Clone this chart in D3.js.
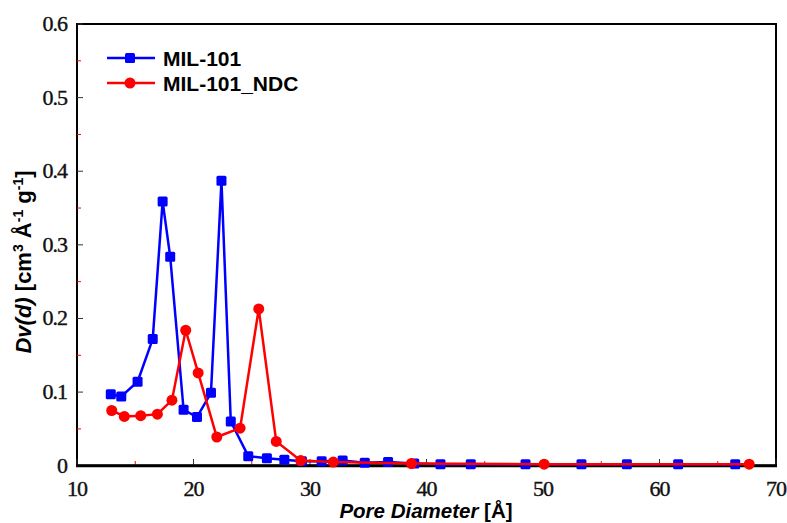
<!DOCTYPE html>
<html><head><meta charset="utf-8">
<script src="https://cdn.jsdelivr.net/npm/d3@7"></script>
<style>body{margin:0;background:#fff;}</style>
</head><body>
<script>
const milX = [12.9,13.8,15.2,16.5,17.35,18.0,19.15,20.3,21.5,22.4,23.2,24.7,26.3,27.8,29.3,31.0,32.8,34.7,36.7,38.95,41.2,43.8,48.5,53.3,57.2,61.6,66.5];
const milY = [0.097,0.094,0.114,0.172,0.359,0.284,0.076,0.066,0.099,0.387,0.060,0.013,0.010,0.008,0.006,0.006,0.007,0.004,0.005,0.003,0.002,0.002,0.002,0.002,0.002,0.002,0.002];
const ndcX = [12.98,14.06,15.47,16.9,18.15,19.33,20.4,22.0,24.0,25.6,27.1,29.2,32.0,38.7,50.1,67.7];
const ndcY = [0.075,0.067,0.068,0.070,0.089,0.184,0.126,0.039,0.051,0.213,0.033,0.007,0.005,0.003,0.002,0.002];
const xTicks = [10,20,30,40,50,60,70];
const xMinor = [15,25,35,45,55,65];
const yTicks = [0,0.1,0.2,0.3,0.4,0.5,0.6];
const yMinor = [0.05,0.15,0.25,0.35,0.45,0.55];
const seriesNames = ["MIL-101","MIL-101_NDC"];
const colors = ["#0000ff","#ff0000"];

const W=787,H=523;
const svg=d3.select("body").append("svg").attr("width",W).attr("height",H);
const x=d3.scaleLinear().domain([10,70]).range([77,776]);
const y=d3.scaleLinear().domain([0,0.6]).range([465.7,24]);

// frame
svg.append("rect").attr("x",77).attr("y",24).attr("width",699).attr("height",441.7)
  .attr("fill","none").attr("stroke","#000").attr("stroke-width",2);

// ticks inward
const g=svg.append("g");
g.selectAll(".yt").data(yTicks).join("line").attr("x1",77).attr("x2",83).attr("y1",d=>y(d)).attr("y2",d=>y(d)).attr("stroke","#333").attr("stroke-width",1);
g.selectAll(".ym").data(yMinor).join("line").attr("x1",77).attr("x2",81).attr("y1",d=>y(d)).attr("y2",d=>y(d)).attr("stroke","#ff0000").attr("stroke-width",1);
g.selectAll(".xt").data(xTicks).join("line").attr("x1",d=>x(d)).attr("x2",d=>x(d)).attr("y1",465.7).attr("y2",459).attr("stroke","#333").attr("stroke-width",1);
g.selectAll(".xm").data(xMinor).join("line").attr("x1",d=>x(d)).attr("x2",d=>x(d)).attr("y1",465.7).attr("y2",461).attr("stroke","#ff0000").attr("stroke-width",1);
svg.append("line").attr("x1",76).attr("x2",777).attr("y1",465.7).attr("y2",465.7).attr("stroke","#000").attr("stroke-width",3);

// tick labels
const serif="'Liberation Serif', 'Times New Roman', 'DejaVu Serif', serif";
svg.selectAll(".yl").data(yTicks).join("text").attr("x",67).attr("y",d=>y(d)+7)
  .attr("text-anchor","end").style("font-family",serif).style("font-size","22px").attr("letter-spacing",-1).attr("fill","#111")
  .attr("stroke","#111").attr("stroke-width",0.4)
  .text(d=>d===0?"0":d3.format(".1f")(d));
svg.selectAll(".xl").data(xTicks).join("text").attr("x",d=>x(d)).attr("y",496)
  .attr("text-anchor","middle").style("font-family",serif).style("font-size","22px").attr("letter-spacing",-1).attr("fill","#111")
  .attr("stroke","#111").attr("stroke-width",0.4)
  .text(d=>d);

// series
const line=d3.line().x(d=>x(d[0])).y(d=>y(d[1]));
const blue=milX.map((v,i)=>[v,milY[i]]);
const red=ndcX.map((v,i)=>[v,ndcY[i]]);
svg.append("path").datum(blue).attr("d",line).attr("fill","none").attr("stroke",colors[0]).attr("stroke-width",2.5);
svg.selectAll(".bm").data(blue).join("rect").attr("x",d=>x(d[0])-5).attr("y",d=>y(d[1])-5).attr("width",10).attr("height",10).attr("rx",1.5).attr("fill",colors[0]);
svg.append("path").datum(red).attr("d",line).attr("fill","none").attr("stroke",colors[1]).attr("stroke-width",2.5);
svg.selectAll(".rm").data(red).join("circle").attr("cx",d=>x(d[0])).attr("cy",d=>y(d[1])).attr("r",5.5).attr("fill",colors[1]);

// legend
const sans="'Liberation Sans', Arial, sans-serif";
const leg=[{y:58},{y:83}];
leg.forEach((l,i)=>{
  svg.append("line").attr("x1",107).attr("x2",155).attr("y1",l.y).attr("y2",l.y).attr("stroke",colors[i]).attr("stroke-width",2.5);
  if(i===0) svg.append("rect").attr("x",125).attr("y",l.y-5).attr("width",10).attr("height",10).attr("rx",1.5).attr("fill",colors[0]);
  else svg.append("circle").attr("cx",130).attr("cy",l.y).attr("r",5.5).attr("fill",colors[1]);
  svg.append("text").attr("x",163).attr("y",l.y+7.5).style("font-family",sans).style("font-size","21px").attr("font-weight","bold").text(seriesNames[i]);
});

// axis titles
const xt=svg.append("text").attr("x",426).attr("y",518).attr("text-anchor","middle")
  .style("font-family",sans).style("font-size","20.5px").attr("font-weight","bold");
xt.append("tspan").attr("font-style","italic").text("Pore Diameter");
xt.append("tspan").text(" [Å]");

const yt=svg.append("text").attr("transform","translate(31,262) rotate(-90)").attr("text-anchor","middle")
  .style("font-family",sans).style("font-size","22px").attr("font-weight","bold");
yt.append("tspan").attr("font-style","italic").text("Dv(d)");
yt.append("tspan").text(" [cm");
yt.append("tspan").style("font-size","14px").attr("dy",-8).text("3");
yt.append("tspan").attr("dy",8).text(" Å");
yt.append("tspan").style("font-size","14px").attr("dy",-8).text("-1");
yt.append("tspan").attr("dy",8).text(" g");
yt.append("tspan").style("font-size","14px").attr("dy",-8).text("-1");
yt.append("tspan").attr("dy",8).text("]");
</script>
</body></html>
